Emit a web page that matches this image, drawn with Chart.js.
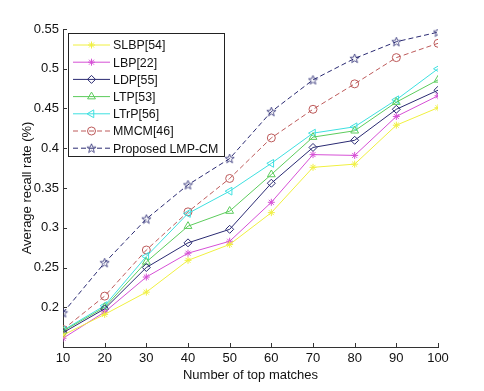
<!DOCTYPE html>
<html><head><meta charset="utf-8">
<script src="https://cdn.jsdelivr.net/npm/chart.js@4/dist/chart.umd.min.js"></script>
<style>html,body{margin:0;padding:0;background:#fff}#wrap{width:484px;height:391px}</style>
</head><body><div id="wrap"><canvas id="c" width="484" height="391"></canvas></div>
<script>
const categories = [10, 20, 30, 40, 50, 60, 70, 80, 90, 100];
const seriesNames = ["SLBP[54]", "LBP[22]", "LDP[55]", "LTP[53]", "LTrP[56]", "MMCM[46]", "Proposed LMP-CM"];
const slbp = [0.165, 0.191, 0.219, 0.259, 0.279, 0.319, 0.376, 0.380, 0.429, 0.451];
const lbp = [0.161, 0.194, 0.238, 0.268, 0.283, 0.332, 0.392, 0.391, 0.440, 0.466];
const ldp = [0.168, 0.198, 0.250, 0.281, 0.298, 0.356, 0.401, 0.410, 0.449, 0.473];
const ltp = [0.170, 0.200, 0.257, 0.302, 0.321, 0.367, 0.414, 0.422, 0.458, 0.486];
const ltrp = [0.171, 0.202, 0.264, 0.318, 0.346, 0.381, 0.419, 0.427, 0.461, 0.500];
const mmcm = [0.172, 0.214, 0.272, 0.320, 0.362, 0.413, 0.449, 0.481, 0.514, 0.532];
const proposed = [0.193, 0.256, 0.311, 0.354, 0.387, 0.446, 0.486, 0.513, 0.534, 0.546];
const yTicks = [0.2, 0.25, 0.3, 0.35, 0.4, 0.45, 0.5, 0.55];

function pentagram(color) {
  const cv = document.createElement('canvas');
  cv.width = 11; cv.height = 11;
  const g = cv.getContext('2d');
  g.strokeStyle = color; g.lineWidth = 0.8;
  g.beginPath();
  for (let i = 0; i < 10; i++) {
    const r = i % 2 === 0 ? 4.8 : 2;
    const a = -Math.PI / 2 + i * Math.PI / 5;
    const px = 5.5 + r * Math.cos(a), py = 5.8 + r * Math.sin(a);
    if (i === 0) g.moveTo(px, py); else g.lineTo(px, py);
  }
  g.closePath(); g.stroke();
  return cv;
}

const FONT = "'Liberation Sans', Arial, sans-serif";
const styles = [
  {color: '#f0f040', point: 'star', radius: 3.5, dash: []},
  {color: '#d650d6', point: 'star', radius: 3.5, dash: []},
  {color: '#2a2a72', point: 'rectRot', radius: 4, dash: []},
  {color: '#5ccc5c', point: 'triangle', radius: 4.5, dash: []},
  {color: '#3ee0e0', point: 'triangle', radius: 4.5, dash: [], rot: -90},
  {color: '#bd5a5a', point: 'circle', radius: 4, dash: [5, 3]},
  {color: '#2a2a72', point: pentagram('#2a2a72'), radius: 5, dash: [5, 3]}
];
const values = [slbp, lbp, ldp, ltp, ltrp, mmcm, proposed];

const datasets = values.map((v, i) => ({
  label: seriesNames[i],
  data: v,
  borderColor: styles[i].color,
  backgroundColor: 'rgba(0,0,0,0)',
  borderWidth: 1,
  borderDash: styles[i].dash,
  pointStyle: styles[i].point,
  pointRadius: styles[i].radius,
  pointRotation: styles[i].rot || 0,
  pointBorderColor: styles[i].color,
  pointBackgroundColor: 'rgba(0,0,0,0)',
  pointBorderWidth: 1,
  tension: 0
}));

const inwardTicks = {
  id: 'inwardTicks',
  afterDraw(chart) {
    const ctx = chart.ctx, a = chart.chartArea;
    ctx.save();
    ctx.strokeStyle = '#333'; ctx.lineWidth = 1;
    const xs = chart.scales.x, ys = chart.scales.y;
    xs.ticks.forEach((t, i) => {
      const p = Math.round(xs.getPixelForTick(i)) + 0.5;
      ctx.beginPath(); ctx.moveTo(p, a.bottom); ctx.lineTo(p, a.bottom - 4); ctx.stroke();
    });
    ys.ticks.forEach((t) => {
      const p = Math.round(ys.getPixelForValue(t.value)) + 0.5;
      ctx.beginPath(); ctx.moveTo(a.left, p); ctx.lineTo(a.left + 4, p); ctx.stroke();
    });
    ctx.restore();
  }
};

const boxLegend = {
  id: 'boxLegend',
  afterDraw(chart) {
    const ctx = chart.ctx;
    const bx = 68.5, by = 33.5, bw = 156, bh = 123;
    ctx.save();
    ctx.fillStyle = '#fff';
    ctx.fillRect(bx, by, bw, bh);
    ctx.strokeStyle = '#222'; ctx.lineWidth = 1;
    ctx.strokeRect(bx, by, bw, bh);
    ctx.font = '12.4px ' + FONT;
    ctx.textBaseline = 'middle';
    chart.data.datasets.forEach((ds, i) => {
      const y = 45 + i * 17.2;
      ctx.strokeStyle = ds.borderColor; ctx.lineWidth = 1;
      ctx.setLineDash(ds.borderDash || []);
      ctx.beginPath(); ctx.moveTo(73, y); ctx.lineTo(110, y); ctx.stroke();
      ctx.setLineDash([]);
      ctx.fillStyle = 'rgba(0,0,0,0)';
      Chart.helpers.drawPoint(ctx, {pointStyle: ds.pointStyle, radius: ds.pointRadius, rotation: ds.pointRotation, borderWidth: 1}, 91.5, y);
      ctx.fillStyle = '#111';
      ctx.fillText(ds.label, 113, y + 1);
    });
    ctx.restore();
  }
};

new Chart(document.getElementById('c'), {
  type: 'line',
  data: {labels: categories, datasets},
  plugins: [inwardTicks, boxLegend],
  options: {
    responsive: false,
    animation: false,
    layout: {padding: {left: 20, right: 46, top: 29, bottom: 8}},
    plugins: {legend: {display: false}, tooltip: {enabled: false}},
    scales: {
      x: {
        type: 'linear', min: 10, max: 100,
        afterBuildTicks(s) { s.ticks = categories.map(v => ({value: v})); },
        afterFit(s) { s.height = 36; },
        grid: {display: true, drawOnChartArea: false, drawTicks: false},
        border: {display: true, color: '#333'},
        ticks: {color: '#111', padding: 4, font: {size: 13, family: FONT}, maxRotation: 0, autoSkip: false},
        title: {display: true, text: 'Number of top matches', color: '#111', font: {size: 13, family: FONT}, padding: {top: 0, bottom: 0}}
      },
      y: {
        min: 0.15, max: 0.55,
        afterBuildTicks(s) { s.ticks = yTicks.map(v => ({value: v})); },
        afterFit(s) { s.width = 43; },
        grid: {display: true, drawOnChartArea: false, drawTicks: false},
        border: {display: true, color: '#333'},
        ticks: {color: '#111', padding: 4, font: {size: 13, family: FONT}, callback: v => String(+v.toFixed(2))},
        title: {display: true, text: 'Average recall rate (%)', color: '#111', font: {size: 13, family: FONT}, padding: {top: 0, bottom: 0}}
      }
    }
  }
});
</script></body></html>
